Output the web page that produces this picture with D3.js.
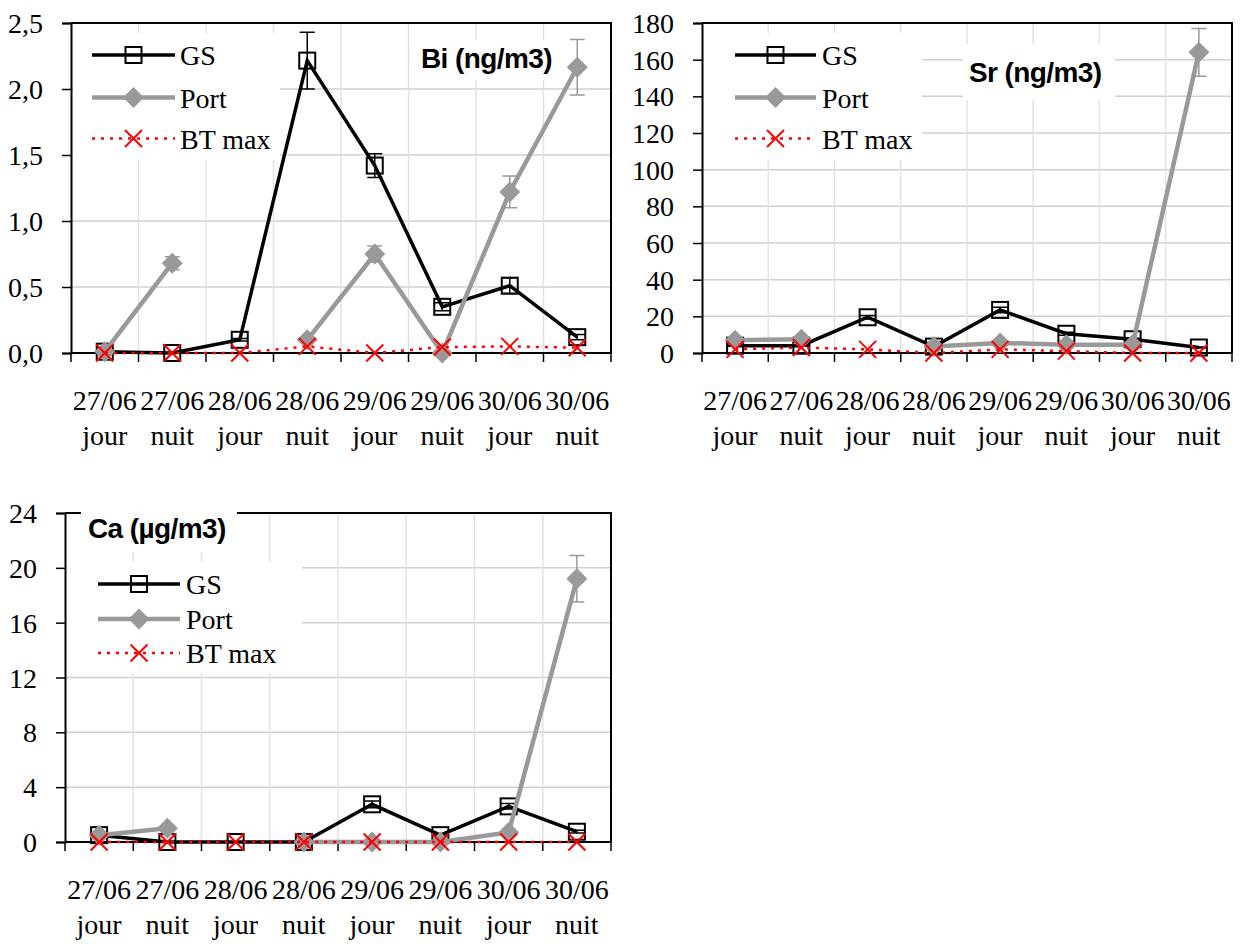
<!DOCTYPE html>
<html><head><meta charset="utf-8">
<script src="https://cdn.jsdelivr.net/npm/d3@7"></script>
<style>
body{margin:0;background:#fff;}
svg{display:block;}
.tick{font-family:"Liberation Serif","Times New Roman",serif;font-size:28px;fill:#000;}
.ttl{font-family:"Liberation Sans",Arial,sans-serif;font-size:28px;font-weight:bold;fill:#000;}
</style></head>
<body>
<svg id="c" width="1242" height="944"></svg>
<script>
// ---------- data ----------
const dates   = ["27/06","27/06","28/06","28/06","29/06","29/06","30/06","30/06"];
const periods = ["jour","nuit","jour","nuit","jour","nuit","jour","nuit"];
const seriesNames = ["GS","Port","BT max"];

const biTicks = [0, 0.5, 1.0, 1.5, 2.0, 2.5];
const biGS      = [0.01, 0.00, 0.10, 2.215, 1.42, 0.35, 0.51, 0.12];
const biGSErr   = [0.00, 0.00, 0.01, 0.215, 0.09, 0.03, 0.06, 0.02];
const biPort    = [0.01, 0.68, null, 0.10, 0.75, 0.00, 1.22, 2.165];
const biPortErr = [0.00, 0.05, null, 0.01, 0.06, 0.00, 0.12, 0.21];
const biBT      = [0.00, 0.00, 0.00, 0.05, 0.00, 0.045, 0.05, 0.04];

const srTicks = [0, 20, 40, 60, 80, 100, 120, 140, 160, 180];
const srGS      = [4.0, 4.0, 19.5, 3.5, 23.5, 10.5, 7.5, 3.0];
const srGSErr   = [0.3, 0.3, 1.0, 0.3, 1.5, 0.8, 0.5, 0.3];
const srPort    = [7.0, 7.5, null, 3.5, 5.5, 4.5, 4.5, 164.0];
const srPortErr = [0.3, 0.3, null, 0.2, 0.3, 0.3, 0.3, 13.0];
const srBT      = [2.0, 3.0, 2.0, 0.0, 2.0, 1.0, 0.0, 0.0];

const caTicks = [0, 4, 8, 12, 16, 20, 24];
const caGS      = [0.50, 0.00, 0.00, 0.00, 2.75, 0.50, 2.60, 0.75];
const caGSErr   = [0.05, 0.00, 0.00, 0.00, 0.25, 0.05, 0.20, 0.10];
const caPort    = [0.50, 1.00, null, 0.00, 0.00, 0.00, 0.70, 19.2];
const caPortErr = [0.00, 0.00, null, 0.00, 0.00, 0.00, 0.05, 1.70];
const caBT      = [0, 0, 0, 0, 0, 0, 0, 0];

// ---------- layout ----------
const panels = [
  {left:71, right:611, top:23, zero:353, ticks:biTicks, fmt:d3.format(".1f"), comma:true,
   gs:biGS, gsErr:biGSErr, port:biPort, portErr:biPortErr, bt:biBT,
   title:"Bi (ng/m3)", titleX:421, titleY:68, titleBox:[416,40,146,40],
   legBox:[73,33,207,127], legLine:[92,175], legText:180, legRows:[55,97.5,138.5]},
  {left:702, right:1232, top:23, zero:353, ticks:srTicks, fmt:d3.format("d"), comma:false,
   gs:srGS, gsErr:srGSErr, port:srPort, portErr:srPortErr, bt:srBT,
   title:"Sr (ng/m3)", titleX:969, titleY:82, titleBox:[963,44,152,56],
   legBox:[704,33,218,127], legLine:[735,816], legText:822, legRows:[55,97.5,138.5]},
  {left:65, right:611, top:513, zero:842, ticks:caTicks, fmt:d3.format("d"), comma:false,
   gs:caGS, gsErr:caGSErr, port:caPort, portErr:caPortErr, bt:caBT,
   title:"Ca (µg/m3)", titleX:88, titleY:538, titleBox:[81,500,156,52],
   legBox:[67,562,235,111], legLine:[98,180], legText:186, legRows:[584,619,653]}
];

const svg = d3.select("#c");
const GRAY = "#999999";
const SQ = 16, DI = 10.5, XR = 8.5;

function squareMarker(g, x, y, s){
  g.append("rect").attr("x", x - s/2).attr("y", y - s/2).attr("width", s).attr("height", s)
    .attr("fill", "none").attr("stroke", "#000").attr("stroke-width", 2);
}
function diamondMarker(g, x, y, r){
  g.append("path").attr("d", `M${x},${y-r}L${x+r},${y}L${x},${y+r}L${x-r},${y}Z`)
    .attr("fill", GRAY).attr("stroke", "none");
}
function crossMarker(g, x, y, r){
  g.append("path").attr("d", `M${x-r},${y-r}L${x+r},${y+r}M${x-r},${y+r}L${x+r},${y-r}`)
    .attr("stroke", "#ff0000").attr("stroke-width", 2).attr("fill", "none");
}

panels.forEach(p => {
  const g = svg.append("g");
  const x = d3.scaleBand().domain(d3.range(dates.length)).range([p.left, p.right]).padding(0);
  const xc = i => x(i) + x.bandwidth()/2;
  const y = d3.scaleLinear().domain([0, p.ticks[p.ticks.length-1]]).range([p.zero, p.top]);

  // horizontal gridlines
  g.append("g").selectAll("line").data(p.ticks.slice(1, -1)).join("line")
    .attr("x1", p.left).attr("x2", p.right).attr("y1", d => y(d)).attr("y2", d => y(d))
    .attr("stroke", "#d0d0d0").attr("stroke-width", 1.5);
  // vertical gridlines at category boundaries
  g.append("g").selectAll("line").data(d3.range(1, dates.length)).join("line")
    .attr("x1", d => x(d)).attr("x2", d => x(d)).attr("y1", p.top).attr("y2", p.zero)
    .attr("stroke", "#e2e2e2").attr("stroke-width", 1.5);

  // legend & title backgrounds
  g.append("rect").attr("x", p.legBox[0]).attr("y", p.legBox[1]).attr("width", p.legBox[2]).attr("height", p.legBox[3]).attr("fill", "#fff");
  g.append("rect").attr("x", p.titleBox[0]).attr("y", p.titleBox[1]).attr("width", p.titleBox[2]).attr("height", p.titleBox[3]).attr("fill", "#fff");

  // frame: top & right borders
  g.append("path").attr("d", `M${p.left},${p.top}H${p.right}V${p.zero}`)
    .attr("fill", "none").attr("stroke", "#000").attr("stroke-width", 2);
  if (p.title.startsWith("Ca")) {
    g.append("rect").attr("x", p.titleBox[0]).attr("y", p.titleBox[1]).attr("width", p.titleBox[2]).attr("height", p.titleBox[3]).attr("fill", "#fff");
  }

  // y axis
  const yAxis = d3.axisLeft(y).tickValues(p.ticks).tickSize(9).tickPadding(19)
    .tickFormat(d => p.comma ? p.fmt(d).replace(".", ",") : p.fmt(d));
  const ya = g.append("g").attr("transform", `translate(${p.left},0)`).call(yAxis);
  ya.select(".domain").attr("stroke", "#000").attr("stroke-width", 2);
  ya.selectAll(".tick line").attr("stroke", "#000").attr("stroke-width", 1.5);
  ya.selectAll(".tick text").attr("class", "tick").attr("dy", "0.34em");
  ya.attr("font-size", null).attr("font-family", null);

  // x axis (ticks at boundaries)
  const xa = g.append("g");
  xa.append("line").attr("x1", p.left).attr("x2", p.right).attr("y1", p.zero).attr("y2", p.zero)
    .attr("stroke", "#000").attr("stroke-width", 2);
  xa.selectAll("line.xt").data(d3.range(0, dates.length + 1)).join("line").attr("class", "xt")
    .attr("x1", d => d < dates.length ? x(d) : p.right).attr("x2", d => d < dates.length ? x(d) : p.right)
    .attr("y1", p.zero).attr("y2", p.zero + 9).attr("stroke", "#000").attr("stroke-width", 1.5);
  xa.selectAll("text.d").data(dates).join("text").attr("class", "tick d")
    .attr("x", (d, i) => xc(i)).attr("y", p.zero + 57).attr("text-anchor", "middle").text(d => d);
  xa.selectAll("text.p").data(periods).join("text").attr("class", "tick p")
    .attr("x", (d, i) => xc(i)).attr("y", p.zero + 92).attr("text-anchor", "middle").text(d => d);

  // series
  const line = d3.line().defined(d => d.v != null).x(d => xc(d.i)).y(d => y(d.v));
  const toPts = arr => arr.map((v, i) => ({v, i}));

  function errBars(vals, errs, color){
    vals.forEach((v, i) => {
      const e = errs[i];
      if (v == null || !e) return;
      const cx = xc(i);
      g.append("path").attr("d", `M${cx},${y(v - e)}V${y(v + e)}M${cx-7.5},${y(v + e)}H${cx+7.5}M${cx-7.5},${y(v - e)}H${cx+7.5}`)
        .attr("stroke", color).attr("stroke-width", 1.5).attr("fill", "none");
    });
  }

  // GS
  g.append("path").datum(toPts(p.gs)).attr("d", line).attr("fill", "none").attr("stroke", "#000").attr("stroke-width", 3.5);
  errBars(p.gs, p.gsErr, "#000");
  p.gs.forEach((v, i) => squareMarker(g, xc(i), y(v), SQ));

  // Port
  g.append("path").datum(toPts(p.port)).attr("d", line).attr("fill", "none").attr("stroke", GRAY).attr("stroke-width", 4.5);
  errBars(p.port, p.portErr, GRAY);
  p.port.forEach((v, i) => { if (v != null) diamondMarker(g, xc(i), y(v), DI); });

  // BT max
  g.append("path").datum(toPts(p.bt)).attr("d", line).attr("fill", "none").attr("stroke", "#ff0000")
    .attr("stroke-width", 2.5).attr("stroke-dasharray", "3,6");
  p.bt.forEach((v, i) => crossMarker(g, xc(i), y(v), XR));

  // legend
  const [l0, l1] = p.legLine, lm = (l0 + l1) / 2, r = p.legRows;
  g.append("line").attr("x1", l0).attr("x2", l1).attr("y1", r[0]).attr("y2", r[0]).attr("stroke", "#000").attr("stroke-width", 3.5);
  squareMarker(g, lm, r[0], SQ);
  g.append("line").attr("x1", l0).attr("x2", l1).attr("y1", r[1]).attr("y2", r[1]).attr("stroke", GRAY).attr("stroke-width", 4.5);
  diamondMarker(g, lm, r[1], DI);
  g.append("line").attr("x1", l0).attr("x2", l1).attr("y1", r[2]).attr("y2", r[2]).attr("stroke", "#ff0000")
    .attr("stroke-width", 2.5).attr("stroke-dasharray", "3,6");
  crossMarker(g, lm, r[2], XR);
  seriesNames.forEach((n, k) => {
    g.append("text").attr("class", "tick").attr("x", p.legText).attr("y", r[k] + 10).text(n);
  });

  // title
  g.append("text").attr("class", "ttl").attr("x", p.titleX).attr("y", p.titleY).attr("letter-spacing", "-0.6").text(p.title);
});
</script>
</body></html>
